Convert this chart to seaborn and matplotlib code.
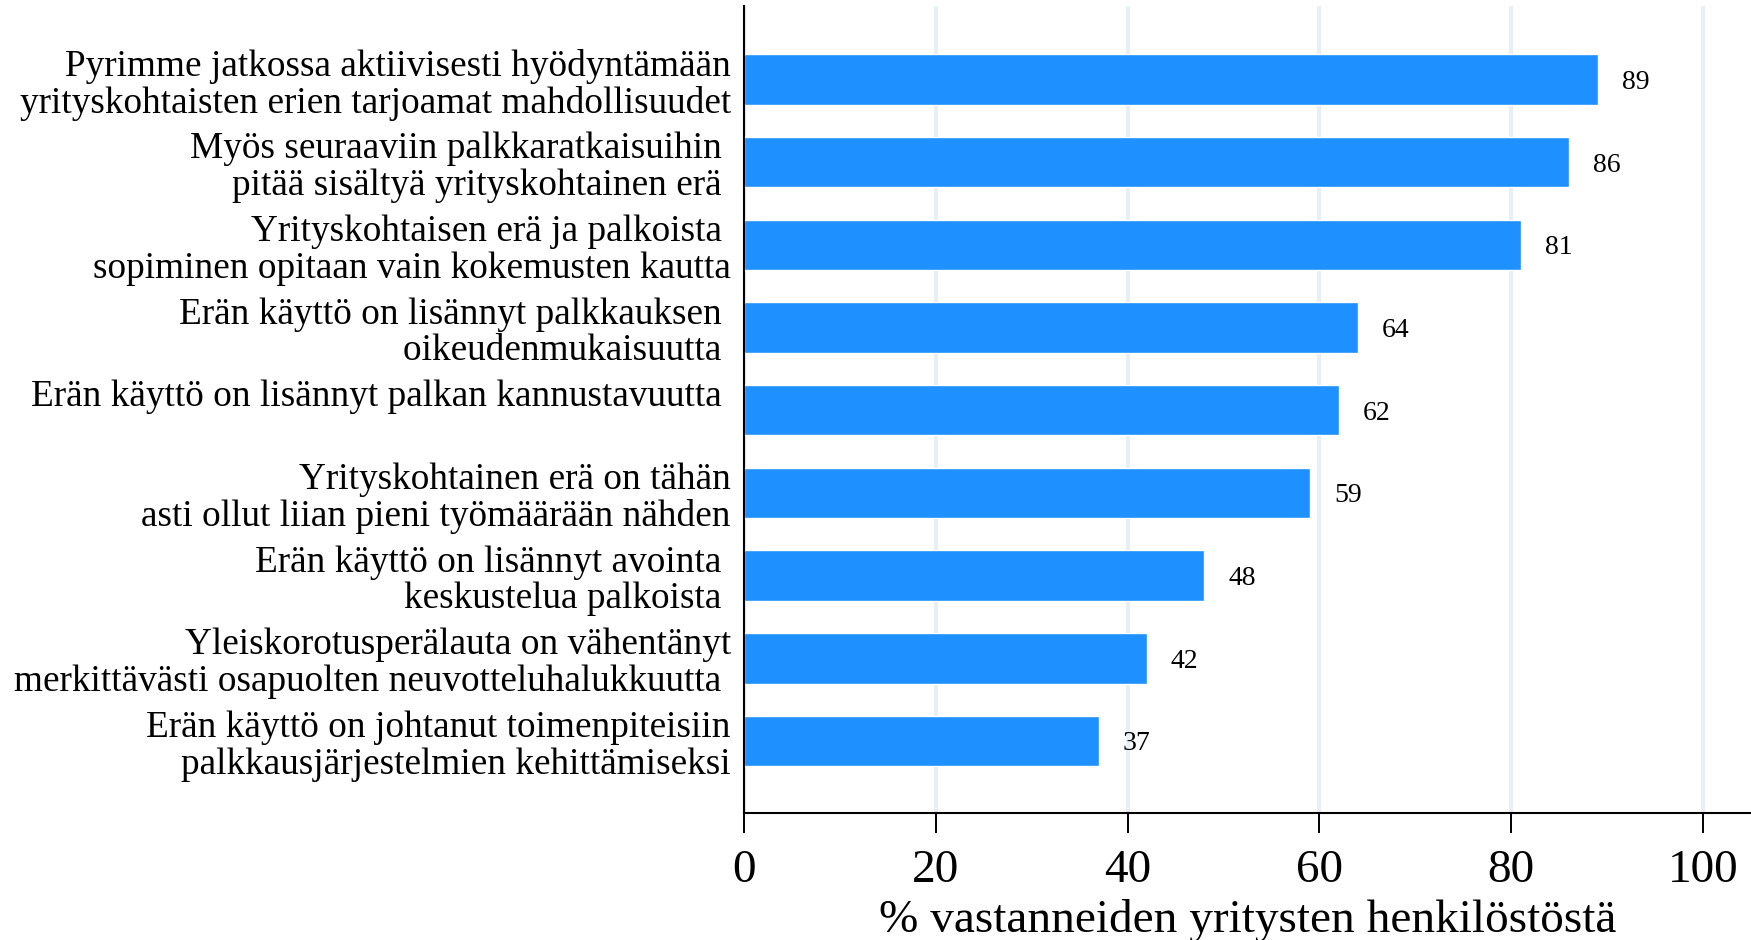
import matplotlib
matplotlib.use("Agg")
import matplotlib.pyplot as plt
import seaborn as sns
import pandas as pd

statements = [
    "Pyrimme jatkossa aktiivisesti hyödyntämään\nyrityskohtaisten erien tarjoamat mahdollisuudet",
    "Myös seuraaviin palkkaratkaisuihin \npitää sisältyä yrityskohtainen erä ",
    "Yrityskohtaisen erä ja palkoista \nsopiminen opitaan vain kokemusten kautta",
    "Erän käyttö on lisännyt palkkauksen \noikeudenmukaisuutta ",
    "Erän käyttö on lisännyt palkan kannustavuutta \n ",
    "Yrityskohtainen erä on tähän\nasti ollut liian pieni työmäärään nähden",
    "Erän käyttö on lisännyt avointa \nkeskustelua palkoista ",
    "Yleiskorotusperälauta on vähentänyt\nmerkittävästi osapuolten neuvotteluhalukkuutta ",
    "Erän käyttö on johtanut toimenpiteisiin\npalkkausjärjestelmien kehittämiseksi",
]
shares = [89, 86, 81, 64, 62, 59, 48, 42, 37]
x_ticks = [0, 20, 40, 60, 80, 100]
x_label = "% vastanneiden yritysten henkilöstöstä"

df = pd.DataFrame({"statement": statements, "share": shares})

sns.set_theme(style="white")
plt.rcParams["font.family"] = ["Liberation Serif", "DejaVu Serif"]
plt.rcParams["text.color"] = "black"
plt.rcParams["axes.labelcolor"] = "black"
plt.rcParams["xtick.color"] = "black"
plt.rcParams["ytick.color"] = "black"

fig = plt.figure(figsize=(17.51, 9.40), dpi=100)
ax = fig.add_axes([0.4249, 0.1351, 0.5751, 0.8585])

ax.grid(axis="x", color="#e8f0f2", linewidth=3)
ax.set_axisbelow(True)

sns.barplot(data=df, x="share", y="statement", orient="h", color="#1E90FF",
            saturation=1, width=0.61, ax=ax)

for i, v in enumerate(shares):
    ax.text(v + 2.5, i, str(v), va="center_baseline", ha="left", fontsize=20,
            color="black")

ax.set_xlim(0, 105)
ax.set_ylim(len(shares) - 1 + 0.871, -0.889)
ax.set_xticks(x_ticks)
ax.set_xticklabels([str(t) for t in x_ticks])
ax.tick_params(axis="x", length=14.4, width=1.4, pad=12, labelsize=34,
               direction="out", bottom=True)
ax.tick_params(axis="y", length=0, pad=9.4, labelsize=26.8)
for lbl in ax.get_yticklabels():
    lbl.set_linespacing(1.08)
ax.set_xlabel(x_label, fontsize=34, labelpad=5)
ax.set_ylabel("")

for side in ["top", "right"]:
    ax.spines[side].set_visible(False)
for side in ["left", "bottom"]:
    ax.spines[side].set_color("black")
    ax.spines[side].set_linewidth(1.5)

fig.savefig("out.png", dpi=100)
